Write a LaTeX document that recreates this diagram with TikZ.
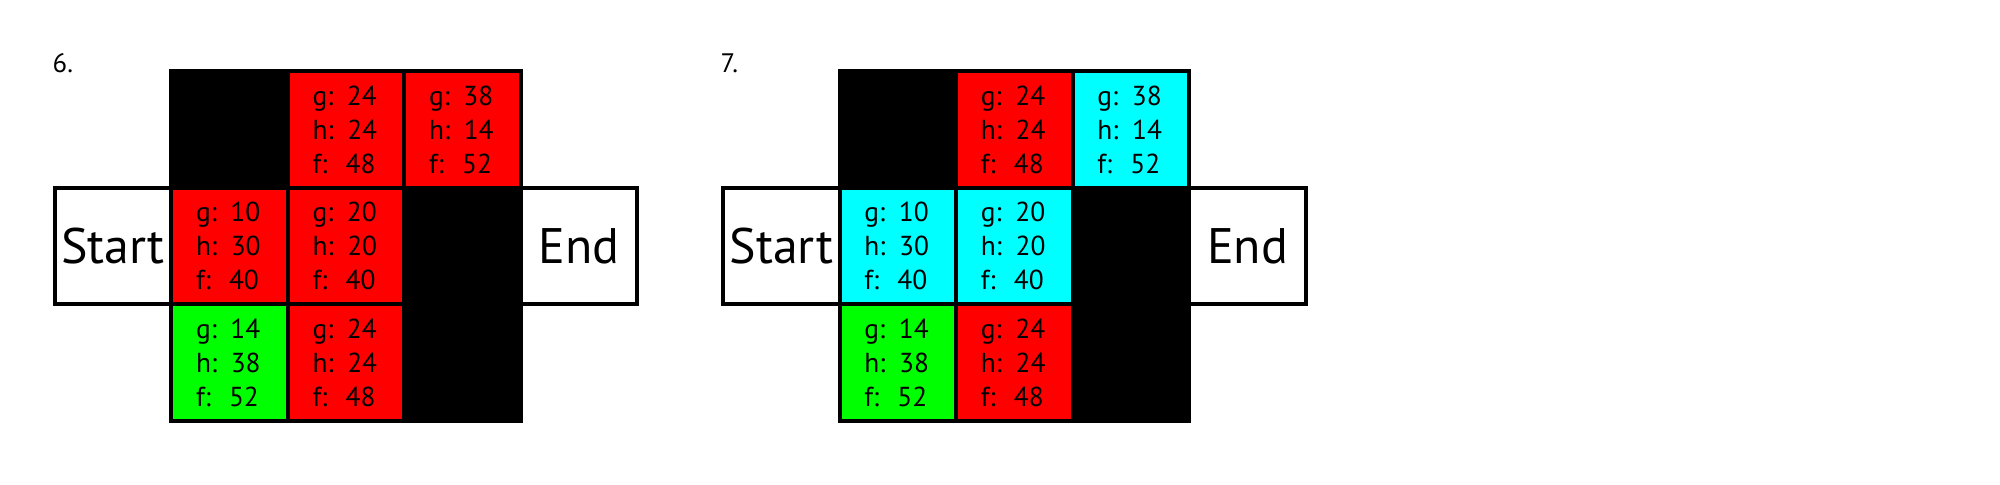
\documentclass[tikz,border=0pt]{standalone}
\usepackage{xcolor}
\usepackage{fontspec}
\setmainfont{PT Sans}
\usepackage{tikz}
\usetikzlibrary{positioning}

\definecolor{openred}{RGB}{255,0,0}
\definecolor{closedcyan}{RGB}{0,255,255}
\definecolor{curgreen}{RGB}{0,255,0}

\begin{document}
\begin{tikzpicture}[
  node distance=0pt,
  cellbox/.style={draw, line width=0.04cm, minimum width=1.165cm, minimum height=1.165cm,
                  inner sep=0pt, outer sep=0pt, text width=0.67cm, align=left,
                  font=\fontsize{7.8}{9.64}\selectfont},
  wallbox/.style={cellbox, fill=black},
  openbox/.style={cellbox, fill=openred},
  closedbox/.style={cellbox, fill=closedcyan},
  curbox/.style={cellbox, fill=curgreen},
  termbox/.style={draw, fill=white, line width=0.04cm, minimum width=1.165cm, minimum height=1.165cm,
                  inner sep=0pt, outer sep=0pt, font=\fontsize{14.2}{17}\selectfont},
  numlbl/.style={anchor=base west, inner sep=0pt, font=\fontsize{7.6}{9}\selectfont},
]
\useasboundingbox (0,0) rectangle (20,-4.85);

\node[numlbl] (lbla) at (0.52,-0.72) {6.};
\node[wallbox] (a11) at (2.2955,-1.2955) {};
\node[openbox, right=of a11] (a12) {g: 24\\h: 24\\f:\ \ 48};
\node[openbox, right=of a12] (a13) {g: 38\\h: 14\\f:\ \ 52};
\node[openbox, below=of a11] (a21) {g: 10\\h: 30\\f:\ \ 40};
\node[openbox, right=of a21] (a22) {g: 20\\h: 20\\f:\ \ 40};
\node[wallbox, right=of a22] (a23) {};
\node[curbox, below=of a21] (a31) {g: 14\\h: 38\\f:\ \ 52};
\node[openbox, right=of a31] (a32) {g: 24\\h: 24\\f:\ \ 48};
\node[wallbox, right=of a32] (a33) {};
\node[termbox, left=of a21] (starta) {Start};
\node[termbox, right=of a23] (enda) {End};

\node[numlbl] (lblb) at (7.20,-0.72) {7.};
\node[wallbox] (b11) at (8.9795,-1.2955) {};
\node[openbox, right=of b11] (b12) {g: 24\\h: 24\\f:\ \ 48};
\node[closedbox, right=of b12] (b13) {g: 38\\h: 14\\f:\ \ 52};
\node[closedbox, below=of b11] (b21) {g: 10\\h: 30\\f:\ \ 40};
\node[closedbox, right=of b21] (b22) {g: 20\\h: 20\\f:\ \ 40};
\node[wallbox, right=of b22] (b23) {};
\node[curbox, below=of b21] (b31) {g: 14\\h: 38\\f:\ \ 52};
\node[openbox, right=of b31] (b32) {g: 24\\h: 24\\f:\ \ 48};
\node[wallbox, right=of b32] (b33) {};
\node[termbox, left=of b21] (startb) {Start};
\node[termbox, right=of b23] (endb) {End};
\end{tikzpicture}
\end{document}
